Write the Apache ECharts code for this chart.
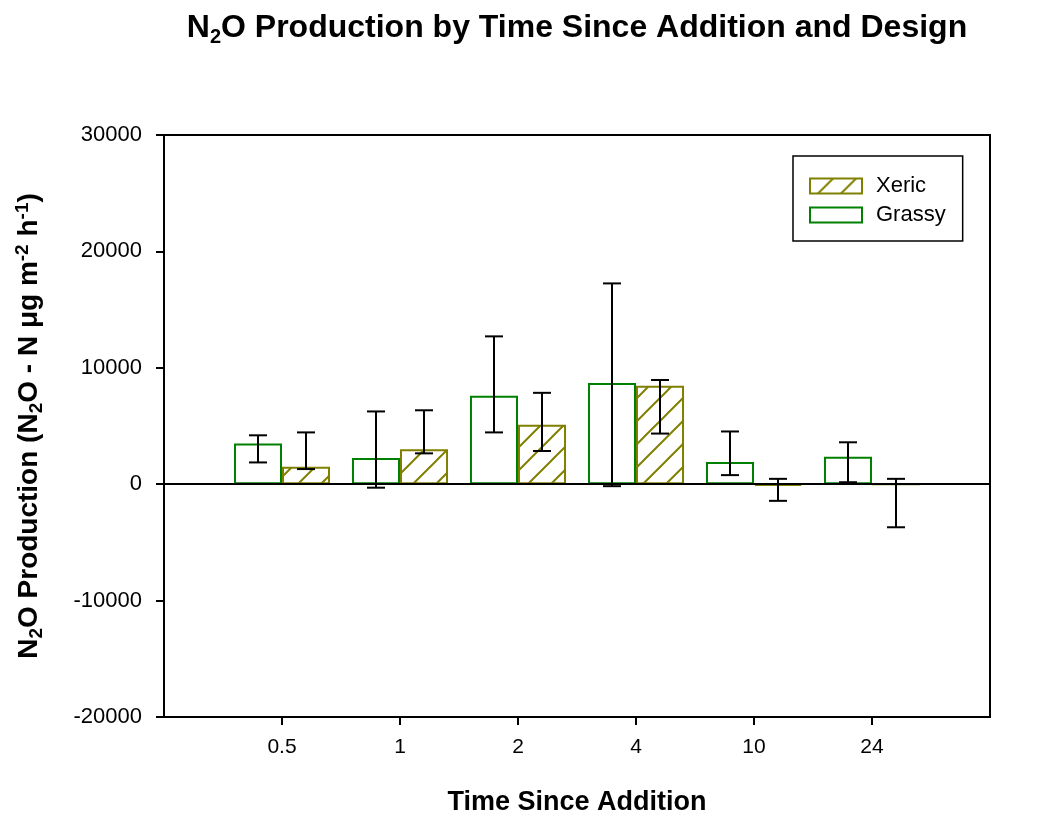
<!DOCTYPE html>
<html>
<head>
<meta charset="utf-8">
<script src="https://cdn.jsdelivr.net/npm/echarts@6/dist/echarts.min.js"></script>
<style>
  html, body { margin: 0; padding: 0; background: #fff; }
  #chart { width: 1038px; height: 821px; }
</style>
</head>
<body>
<div id="chart"></div>
<script>
// Time since addition (h); empty slots pad the axis on both ends
const timeLabels = ['0.5', '1', '2', '4', '10', '24'];

// Grassy design: mean N2O production and error-bar extents
const grassyMean = [3500, 2250, 7600, 8700, 1900, 2350];
const grassyLow  = [1870, -300, 4450, -170, 780, 170];
const grassyHigh = [4200, 6250, 12700, 17250, 4530, 3600];

// Xeric design: mean N2O production and error-bar extents
const xericMean = [1500, 3000, 5100, 8450, -150, 0];
const xericLow  = [1300, 2650, 2850, 4350, -1430, -3700];
const xericHigh = [4450, 6350, 7850, 8950, 460, 460];

// y-axis range
const yMin = -20000, yMax = 30000, yStep = 10000;

const FONT = 'Liberation Sans, Arial, Helvetica, sans-serif';
const GREEN = '#008000';
const OLIVE = '#808000';
const CAT_GAP = 0.186;

const categories = [''].concat(timeLabels, ['']);
const pad = arr => [null].concat(arr, [null]);

// diagonal hatch fill for the Xeric bars
function hatch(color) {
  const s = 23;
  const c = document.createElement('canvas');
  c.width = s; c.height = s;
  const g = c.getContext('2d');
  g.fillStyle = '#fff';
  g.fillRect(0, 0, s, s);
  g.strokeStyle = color;
  g.lineWidth = 2;
  g.beginPath();
  g.moveTo(-3, s + 3); g.lineTo(s + 3, -3);
  g.moveTo(-3, 3); g.lineTo(3, -3);
  g.moveTo(s - 3, s + 3); g.lineTo(s + 3, s - 3);
  g.stroke();
  return c;
}

// error bars: [categoryIndex, low, high, side]
const errData = [];
timeLabels.forEach((_, i) => {
  errData.push([i + 1, grassyLow[i], grassyHigh[i], -1]);
  errData.push([i + 1, xericLow[i], xericHigh[i], 1]);
});

const chart = echarts.init(document.getElementById('chart'), null, { renderer: 'canvas' });

chart.setOption({
  animation: false,
  backgroundColor: '#fff',
  textStyle: { fontFamily: FONT, color: '#000' },
  title: {
    text: '{a|N}{s|2}{a|O Production by Time Since Addition and Design}',
    left: 577,
    top: 10,
    padding: 0,
    textAlign: 'center',
    textStyle: {
      rich: {
        a: { fontSize: 32, fontWeight: 'bold', fontFamily: FONT, color: '#000' },
        s: { fontSize: 20, fontWeight: 'bold', fontFamily: FONT, color: '#000', padding: [17, 0, 0, 0] }
      }
    }
  },
  legend: {
    data: ['Xeric', 'Grassy'],
    orient: 'vertical',
    left: 793,
    top: 156,
    padding: [19, 17, 15, 16],
    itemGap: 7,
    itemWidth: 52,
    itemHeight: 15,
    icon: 'rect',
    borderColor: '#000',
    borderWidth: 1.5,
    backgroundColor: '#fff',
    textStyle: { fontSize: 22, fontFamily: FONT, color: '#000', lineHeight: 22, padding: [0, 0, 0, 9] }
  },
  grid: {
    left: 164,
    right: 48,
    top: 135,
    bottom: 104,
    show: true,
    borderColor: '#000',
    borderWidth: 2
  },
  xAxis: {
    type: 'category',
    data: categories,
    boundaryGap: false,
    name: 'Time Since Addition',
    nameLocation: 'middle',
    nameGap: 72,
    nameTextStyle: { fontSize: 27, fontWeight: 'bold', fontFamily: FONT, color: '#000' },
    axisLine: { onZero: false, lineStyle: { color: '#000', width: 2 } },
    axisTick: {
      interval: (i) => i > 0 && i < categories.length - 1,
      length: 8,
      lineStyle: { color: '#000', width: 2 }
    },
    axisLabel: {
      interval: 0,
      fontSize: 21,
      fontFamily: FONT,
      color: '#000',
      margin: 20
    },
    splitLine: { show: false }
  },
  yAxis: {
    type: 'value',
    min: yMin,
    max: yMax,
    interval: yStep,
    name: '{a|N}{s|2}{a|O Production (N}{s|2}{a|O - N μg m}{p|-2}{a| h}{p|-1}{a|)}',
    nameLocation: 'middle',
    nameGap: 118,
    nameTextStyle: {
      rich: {
        a: { fontSize: 28, fontWeight: 'bold', fontFamily: FONT, color: '#000' },
        s: { fontSize: 19, fontWeight: 'bold', fontFamily: FONT, color: '#000', padding: [14, 0, 0, 0] },
        p: { fontSize: 19, fontWeight: 'bold', fontFamily: FONT, color: '#000', padding: [0, 0, 14, 0] }
      }
    },
    axisLine: { show: true, lineStyle: { color: '#000', width: 2 } },
    axisTick: { show: true, length: 8, lineStyle: { color: '#000', width: 2 } },
    axisLabel: {
      fontSize: 22,
      fontFamily: FONT,
      color: '#000',
      margin: 22,
      formatter: (v) => String(v)
    },
    splitLine: { show: false }
  },
  series: [
    {
      name: 'Grassy',
      type: 'bar',
      data: pad(grassyMean),
      barGap: '0%',
      barCategoryGap: (CAT_GAP * 100) + '%',
      itemStyle: { color: '#fff', borderColor: GREEN, borderWidth: 2 },
      z: 2,
      markLine: {
        silent: true,
        symbol: ['none', 'none'],
        label: { show: false },
        lineStyle: { color: '#000', width: 2, type: 'solid' },
        data: [{ yAxis: 0 }],
        z: 5
      }
    },
    {
      name: 'Xeric',
      type: 'bar',
      data: pad(xericMean),
      barGap: '0%',
      barCategoryGap: (CAT_GAP * 100) + '%',
      itemStyle: { color: { image: hatch(OLIVE), repeat: 'repeat' }, borderColor: OLIVE, borderWidth: 2 },
      z: 2
    },
    {
      name: 'error',
      type: 'custom',
      data: errData,
      z: 10,
      silent: true,
      encode: { x: 0, y: [1, 2] },
      renderItem: function (params, api) {
        const idx = api.value(0);
        const band = api.size([1, 0])[0];
        const off = api.value(3) * band * (1 - CAT_GAP) / 4;
        const pLo = api.coord([idx, api.value(1)]);
        const pHi = api.coord([idx, api.value(2)]);
        const cx = pLo[0] + off;
        const cap = 9;
        const st = { stroke: '#000', lineWidth: 2 };
        return {
          type: 'group',
          children: [
            { type: 'line', shape: { x1: cx, y1: pLo[1], x2: cx, y2: pHi[1] }, style: st },
            { type: 'line', shape: { x1: cx - cap, y1: pLo[1], x2: cx + cap, y2: pLo[1] }, style: st },
            { type: 'line', shape: { x1: cx - cap, y1: pHi[1], x2: cx + cap, y2: pHi[1] }, style: st }
          ]
        };
      }
    }
  ]
});
</script>
</body>
</html>
